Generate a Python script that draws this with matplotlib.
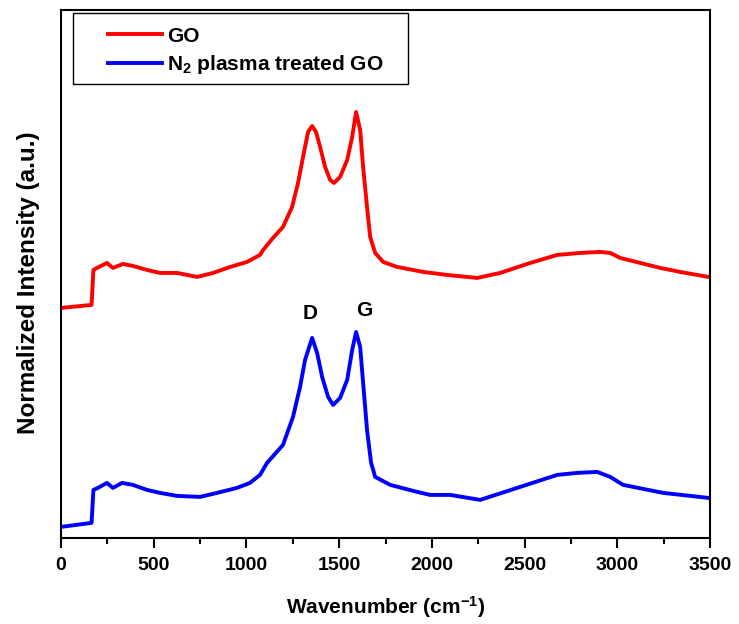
import matplotlib
matplotlib.use("Agg")
import matplotlib.pyplot as plt
from matplotlib.patches import Rectangle
from matplotlib.ticker import MultipleLocator

# Raman spectra (wavenumber in cm-1, intensity in a.u.)
go_wn = [0, 165, 175, 194, 248, 280, 334, 388, 464, 534, 626, 734, 820, 912,
         1003, 1073, 1090, 1143, 1197, 1246, 1278, 1305, 1332, 1354, 1375, 1397,
         1424, 1451, 1472, 1505, 1543, 1570, 1591, 1613, 1629, 1650, 1667, 1694,
         1737, 1812, 1953, 2082, 2244, 2368, 2530, 2675, 2799, 2907, 2961, 3015,
         3123, 3231, 3339, 3490]
go_int = [232, 235, 270, 272, 277, 272, 276, 274, 270, 267, 267, 263, 267, 273,
          278, 285, 290, 302, 313, 333, 357, 383, 408, 414, 408, 393,
          373, 360, 357, 363, 380, 403, 428, 410, 373, 333, 303, 287,
          278, 273, 268, 265, 262, 267, 277, 285, 287, 288, 287, 282,
          277, 272, 268, 263]

n2_wn = [0, 165, 175, 199, 248, 280, 329, 388, 464, 534, 626, 750, 841, 949,
         1019, 1073, 1111, 1197, 1251, 1289, 1316, 1354, 1381, 1408, 1440, 1467,
         1505, 1543, 1570, 1591, 1613, 1629, 1650, 1672, 1694, 1775, 1920, 1990,
         2098, 2260, 2476, 2675, 2783, 2891, 2961, 3031, 3247, 3490]
n2_int = [13, 17, 50, 52, 57, 52, 57, 55, 50, 47, 44, 43, 47, 52,
          57, 65, 77, 95, 123, 153, 180, 202, 187, 163, 143, 135,
          142, 160, 190, 208, 193, 157, 110, 77, 63, 55, 48, 45,
          45, 40, 53, 65, 67, 68, 63, 55, 47, 42]

labels = ["GO", r"N$_2$ plasma treated GO"]
peak_names = ["D", "G"]
peak_pos = [(1343, 226), (1634, 229)]

plt.rcParams["font.family"] = ["Liberation Sans", "DejaVu Sans"]
plt.rcParams["mathtext.fontset"] = "custom"
plt.rcParams["mathtext.rm"] = "Liberation Sans:bold"
plt.rcParams["mathtext.it"] = "Liberation Sans:bold"
plt.rcParams["mathtext.bf"] = "Liberation Sans:bold"
plt.rcParams["mathtext.default"] = "rm"

fig = plt.figure(figsize=(7.39, 6.24), dpi=100)
ax = fig.add_axes([0.0825, 0.138, 0.8785, 0.846])

ax.plot(go_wn, go_int, color="#ff0000", lw=2.8, label=labels[0])
ax.plot(n2_wn, n2_int, color="#0000ff", lw=2.8, label=labels[1])

for name, (x, y) in zip(peak_names, peak_pos):
    ax.text(x, y, name, fontsize=15, fontweight="bold", ha="center", va="center")

ax.set_xlim(0, 3500)
ax.set_ylim(2, 530)
ax.xaxis.set_major_locator(MultipleLocator(500))
ax.xaxis.set_minor_locator(MultipleLocator(250))
ax.set_yticks([])
ax.tick_params(axis="x", which="major", direction="out", length=7, width=1.5, pad=7)
ax.tick_params(axis="x", which="minor", direction="out", length=4, width=1.5)
for lab in ax.get_xticklabels():
    lab.set_fontweight("bold")
    lab.set_fontsize(14)
for sp in ax.spines.values():
    sp.set_linewidth(1.5)

ax.set_xlabel("Wavenumber (cm$^{-1}$)", fontsize=15, fontweight="bold", labelpad=14)
ax.set_ylabel("Normalized Intensity (a.u.)", fontsize=17.5, fontweight="bold")
ax.yaxis.set_label_coords(-0.033, 0.483)

# legend frame is drawn separately, wider on the left like the original
ax.add_patch(Rectangle((0.0185, 0.8598), 0.5162, 0.1345, transform=ax.transAxes,
                       facecolor="white", edgecolor="black", lw=1.0, zorder=4))
leg = ax.legend(loc="upper left", bbox_to_anchor=(0.057, 0.988), frameon=False,
                handlelength=2.55, borderpad=0, labelspacing=0.35, handletextpad=0.25,
                prop={"weight": "bold", "size": 15})
leg.set_zorder(5)

fig.savefig("out.png", dpi=100)
